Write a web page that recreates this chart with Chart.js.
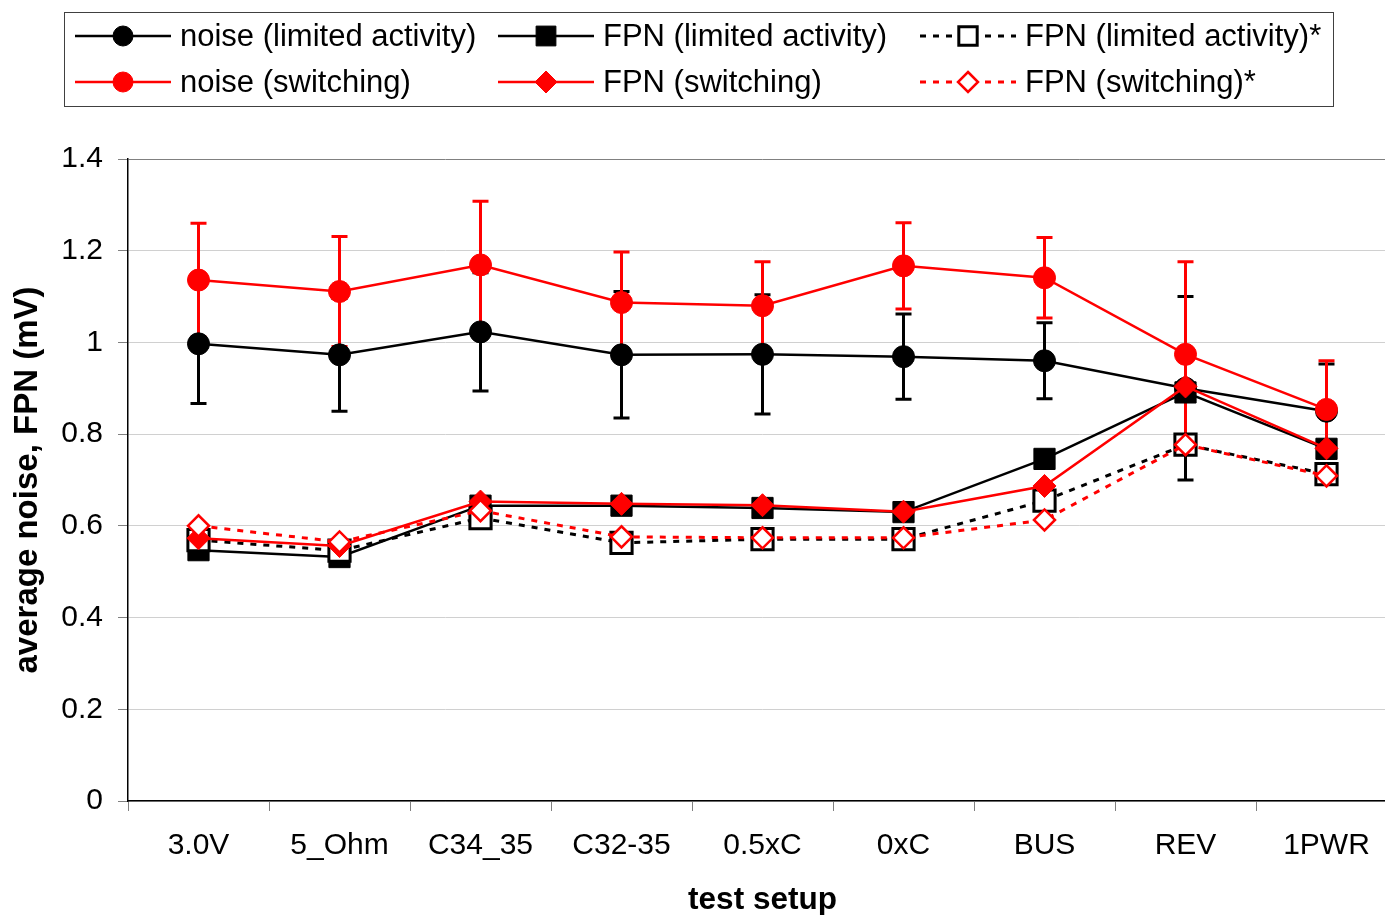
<!DOCTYPE html>
<html>
<head>
<meta charset="utf-8">
<title>average noise, FPN</title>
<script src="https://cdn.jsdelivr.net/npm/chart.js"></script>
<style>
    html, body { margin: 0; padding: 0; overflow: hidden; background: #ffffff; }
    #wrap { width: 1385px; height: 915px; overflow: hidden; position: relative; }
    #noiseChart { display: block; position: absolute; left: 0; top: 0; }
</style>
</head>
<body>
<div id="wrap"><canvas id="noiseChart" width="1400" height="935"></canvas></div>
<script>
// Données du graphique
var categories = ['3.0V', '5_Ohm', 'C34_35', 'C32-35', '0.5xC', '0xC', 'BUS', 'REV', '1PWR'];

var noiseLimited      = [0.997, 0.973, 1.023, 0.973, 0.974, 0.969, 0.960, 0.900, 0.850];
var noiseLimitedErr   = [0.130, 0.123, 0.129, 0.138, 0.130, 0.093, 0.083, 0.200, 0.103];
var noiseSwitching    = [1.136, 1.111, 1.169, 1.087, 1.080, 1.167, 1.141, 0.974, 0.854];
var noiseSwitchingErr = [0.124, 0.120, 0.139, 0.110, 0.096, 0.094, 0.088, 0.202, 0.106];

var fpnLimited       = [0.547, 0.532, 0.644, 0.644, 0.639, 0.630, 0.746, 0.891, 0.768];
var fpnSwitching     = [0.573, 0.556, 0.653, 0.648, 0.645, 0.631, 0.687, 0.904, 0.769];
var fpnLimitedStar   = [0.569, 0.546, 0.617, 0.563, 0.571, 0.571, 0.655, 0.777, 0.713];
var fpnSwitchingStar = [0.600, 0.565, 0.633, 0.576, 0.574, 0.574, 0.613, 0.777, 0.709];

var yTicks = [0, 0.2, 0.4, 0.6, 0.8, 1, 1.2, 1.4];

var FONT = '"Liberation Sans", Arial, sans-serif';

// Dessine un marqueur (cercle, carré, losange)
function drawMarker(ctx, style, x, y, r, fill, stroke, lw) {
    ctx.beginPath();
    if (style === 'circle') {
        ctx.arc(x, y, r, 0, Math.PI * 2);
    } else if (style === 'rect') {
        var s = r * Math.SQRT1_2;
        ctx.rect(x - s, y - s, 2 * s, 2 * s);
    } else {
        ctx.moveTo(x, y - r);
        ctx.lineTo(x + r, y);
        ctx.lineTo(x, y + r);
        ctx.lineTo(x - r, y);
        ctx.closePath();
    }
    ctx.fillStyle = fill;
    ctx.fill();
    if (lw > 0) {
        ctx.lineWidth = lw;
        ctx.strokeStyle = stroke;
        ctx.stroke();
    }
}

// Barres d'erreur du bruit, tracées sous les séries
var errorBarsPlugin = {
    id: 'errorBars',
    beforeDatasetsDraw: function(chart) {
        var ctx = chart.ctx;
        var xScale = chart.scales.x;
        var yScale = chart.scales.y;
        var bars = [
            { values: noiseLimited, errors: noiseLimitedErr, color: '#000000' },
            { values: noiseSwitching, errors: noiseSwitchingErr, color: '#ff0000' }
        ];
        ctx.save();
        ctx.lineWidth = 3;
        bars.forEach(function(bar) {
            ctx.strokeStyle = bar.color;
            bar.values.forEach(function(v, i) {
                var x = xScale.getPixelForValue(i);
                var yHigh = yScale.getPixelForValue(v + bar.errors[i]);
                var yLow = yScale.getPixelForValue(v - bar.errors[i]);
                ctx.beginPath();
                ctx.moveTo(x, yHigh);
                ctx.lineTo(x, yLow);
                ctx.moveTo(x - 8, yHigh);
                ctx.lineTo(x + 8, yHigh);
                ctx.moveTo(x - 8, yLow);
                ctx.lineTo(x + 8, yLow);
                ctx.stroke();
            });
        });
        ctx.restore();
    }
};

// Légende encadrée sur deux lignes
var legendSlots = [
    { index: 0, x: 75,  y: 36 },
    { index: 1, x: 498, y: 36 },
    { index: 2, x: 920, y: 36 },
    { index: 3, x: 75,  y: 82 },
    { index: 4, x: 498, y: 82 },
    { index: 5, x: 920, y: 82 }
];

var boxLegendPlugin = {
    id: 'boxLegend',
    afterDraw: function(chart) {
        var ctx = chart.ctx;
        ctx.save();
        ctx.strokeStyle = '#404040';
        ctx.lineWidth = 1;
        ctx.strokeRect(64.5, 12.5, 1269, 94);
        legendSlots.forEach(function(slot) {
            var ds = chart.data.datasets[slot.index];
            ctx.setLineDash(ds.borderDash || []);
            ctx.strokeStyle = ds.borderColor;
            ctx.lineWidth = ds.borderWidth;
            ctx.beginPath();
            ctx.moveTo(slot.x, slot.y);
            ctx.lineTo(slot.x + 96, slot.y);
            ctx.stroke();
            ctx.setLineDash([]);
            drawMarker(ctx, ds.pointStyle, slot.x + 48, slot.y, ds.legendRadius,
                ds.pointBackgroundColor, ds.pointBorderColor, ds.pointBorderWidth);
            ctx.fillStyle = '#000000';
            ctx.font = '31px ' + FONT;
            ctx.textAlign = 'left';
            ctx.textBaseline = 'middle';
            ctx.fillText(ds.label, slot.x + 105, slot.y + 1);
        });
        ctx.restore();
    }
};

var datasets = [
    {
        label: 'noise (limited activity)', data: noiseLimited, order: 6,
        borderColor: '#000000', borderWidth: 2.5,
        pointStyle: 'circle', pointRadius: 11, legendRadius: 10,
        pointBackgroundColor: '#000000', pointBorderColor: '#000000', pointBorderWidth: 1
    },
    {
        label: 'FPN (limited activity)', data: fpnLimited, order: 5,
        borderColor: '#000000', borderWidth: 2.5,
        pointStyle: 'rect', pointRadius: 15, legendRadius: 14,
        pointBackgroundColor: '#000000', pointBorderColor: '#000000', pointBorderWidth: 1
    },
    {
        label: 'FPN (limited activity)*', data: fpnLimitedStar, order: 4,
        borderColor: '#000000', borderWidth: 3, borderDash: [6, 7],
        pointStyle: 'rect', pointRadius: 15, legendRadius: 13,
        pointBackgroundColor: '#ffffff', pointBorderColor: '#000000', pointBorderWidth: 3
    },
    {
        label: 'noise (switching)', data: noiseSwitching, order: 3,
        borderColor: '#ff0000', borderWidth: 2.5,
        pointStyle: 'circle', pointRadius: 11, legendRadius: 10,
        pointBackgroundColor: '#ff0000', pointBorderColor: '#ff0000', pointBorderWidth: 1
    },
    {
        label: 'FPN (switching)', data: fpnSwitching, order: 2,
        borderColor: '#ff0000', borderWidth: 2.5,
        pointStyle: 'rectRot', pointRadius: 11.5, legendRadius: 11,
        pointBackgroundColor: '#ff0000', pointBorderColor: '#ff0000', pointBorderWidth: 1
    },
    {
        label: 'FPN (switching)*', data: fpnSwitchingStar, order: 1,
        borderColor: '#ff0000', borderWidth: 3, borderDash: [6, 7],
        pointStyle: 'rectRot', pointRadius: 10.5, legendRadius: 10,
        pointBackgroundColor: '#ffffff', pointBorderColor: '#ff0000', pointBorderWidth: 2.5
    }
];

datasets.forEach(function(ds) {
    ds.fill = false;
    ds.tension = 0;
    ds.borderCapStyle = 'butt';
    ds.pointHoverRadius = ds.pointRadius;
});

// Le canvas est plus grand que la fenêtre : la zone de tracé est coupée à droite
var ctx = document.getElementById('noiseChart').getContext('2d');
new Chart(ctx, {
    type: 'line',
    data: { labels: categories, datasets: datasets },
    plugins: [errorBarsPlugin, boxLegendPlugin],
    options: {
        responsive: false,
        devicePixelRatio: 1,
        animation: false,
        layout: {
            autoPadding: false,
            padding: { top: 159, left: 0, right: 3, bottom: 0 }
        },
        plugins: {
            legend: { display: false },
            tooltip: { enabled: false }
        },
        scales: {
            x: {
                offset: true,
                grid: { display: true, drawOnChartArea: false, offset: true, tickLength: 10, tickColor: '#808080' },
                border: { color: '#000000', width: 1.5 },
                ticks: { color: '#000000', font: { size: 30, family: FONT }, padding: 17, maxRotation: 0, autoSkip: false },
                title: {
                    display: true, text: 'test setup', color: '#000000',
                    font: { size: 31.5, weight: 'bold', family: FONT },
                    padding: { top: 0, bottom: 16 }
                },
                afterFit: function(scale) { scale.height = 134; }
            },
            y: {
                min: 0,
                max: 1.4,
                afterBuildTicks: function(scale) {
                    scale.ticks = yTicks.map(function(v) { return { value: v }; });
                },
                grid: {
                    color: function(c) {
                        return c.tick && c.tick.value === 1.4 ? '#808080' : '#d0d0d0';
                    },
                    tickLength: 10,
                    tickColor: '#808080'
                },
                border: { color: '#000000', width: 1.5 },
                ticks: {
                    color: '#000000',
                    font: { size: 30, family: FONT },
                    padding: 15,
                    callback: function(v) { return String(Math.round(v * 10) / 10); }
                },
                title: {
                    display: true, text: 'average noise, FPN (mV)', color: '#000000',
                    font: { size: 33, weight: 'bold', family: FONT },
                    padding: { top: 8, bottom: 0 }
                },
                afterFit: function(scale) { scale.width = 128; }
            }
        }
    }
});
</script>
</body>
</html>
